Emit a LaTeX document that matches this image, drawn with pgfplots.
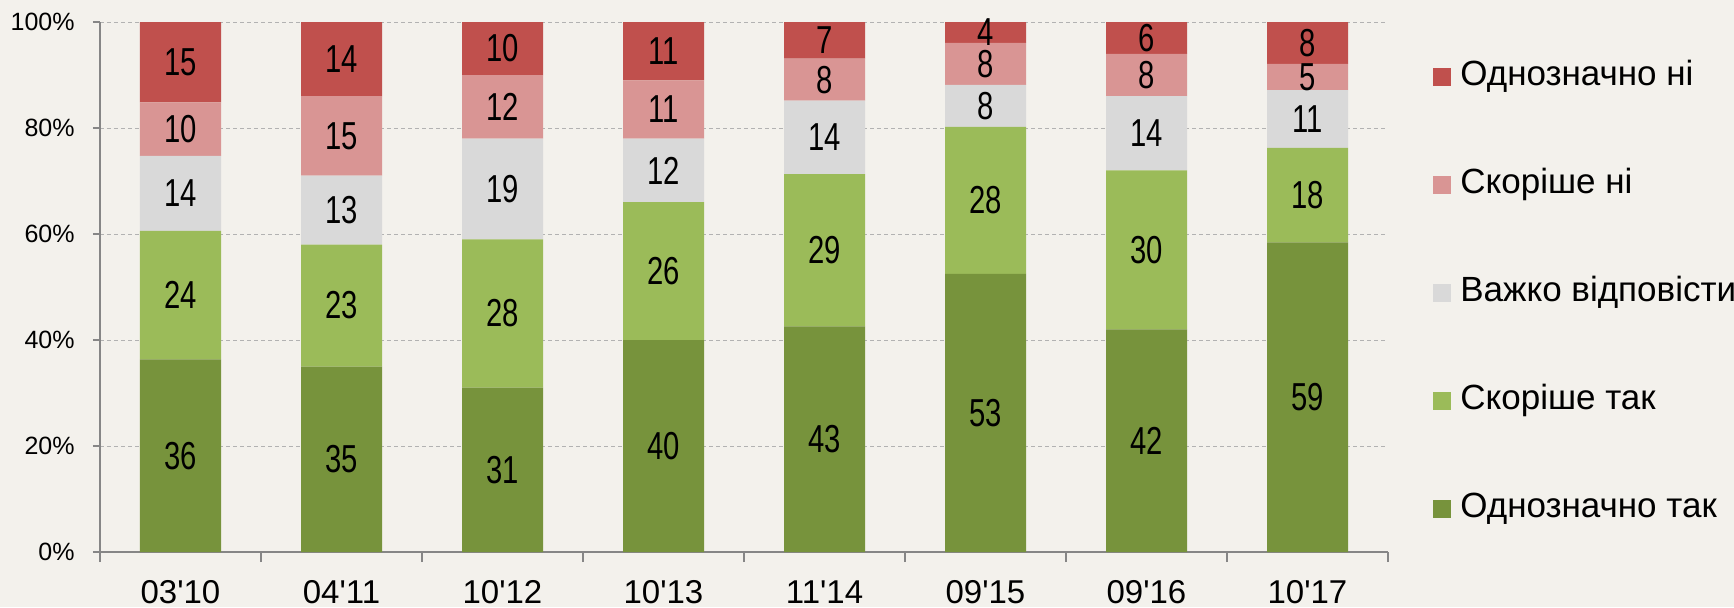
\documentclass[border=0pt]{standalone}
\usepackage{pgfplots}
\pgfplotsset{compat=1.18}
\usepackage{pgfplotstable}
\usepackage{fontspec}
\setmainfont{Liberation Sans}
\newfontfamily\narrowfont[FakeStretch=0.75]{Liberation Sans}
\definecolor{bg}{HTML}{F3F1EC}
\definecolor{c1}{HTML}{77933C}
\definecolor{c2}{HTML}{9BBB59}
\definecolor{c3}{HTML}{D9D9D9}
\definecolor{c4}{HTML}{D99594}
\definecolor{c5}{HTML}{C0504D}
\definecolor{axgray}{HTML}{868686}
\definecolor{gridgray}{HTML}{B2B2B2}

\pgfplotstableread{
i a b c d e
0 36 24 14 10 15
1 35 23 13 15 14
2 31 28 19 12 10
3 40 26 12 11 11
4 43 29 14 8 7
5 53 28 8 8 4
6 42 30 14 8 6
7 59 18 11 5 8
}\data

\newcommand{\tot}{(\thisrow{a}+\thisrow{b}+\thisrow{c}+\thisrow{d}+\thisrow{e})}

\pgfplotsset{
  myleg/.style={legend image code/.code={\fill[##1] (0pt,-4.5pt) rectangle (9pt,4.5pt);}},
  base/.style={at={(0,0)}, anchor=south west, scale only axis, width=644pt, height=265pt,
    xmin=-0.5, xmax=7.5, ymin=0, ymax=100},
}

\begin{document}
\begin{tikzpicture}
\fill[bg] (-50pt,-27.5pt) rectangle (817pt,276pt);
\useasboundingbox (-50pt,-27.5pt) rectangle (817pt,276pt);
\begin{axis}[base,
  ybar stacked, bar width=40.5pt,
  axis x line*=bottom, axis y line*=left,
  axis line style={axgray, line width=0.75pt},
  tick style={axgray, line width=0.75pt},
  tick align=outside,
  major tick length=3.5pt, minor tick length=5pt,
  ytick={0,20,...,100},
  yticklabels={0\%,20\%,40\%,60\%,80\%,100\%},
  xtick={0,...,7},
  xticklabels={03\textquotesingle10,04\textquotesingle11,10\textquotesingle12,10\textquotesingle13,11\textquotesingle14,09\textquotesingle15,09\textquotesingle16,10\textquotesingle17},
  minor xtick={-0.5,0.5,...,7.5},
  major x tick style={draw=none},
  ymajorgrids,
  major grid style={gridgray, dash pattern=on 2pt off 1.5pt, line width=0.5pt},
  yticklabel style={font=\fontsize{12.5}{14}\selectfont, inner sep=0pt, xshift=-9pt},
  xticklabel style={font=\fontsize{16.5}{18}\selectfont, inner sep=0pt, yshift=-10.5pt},
  reverse legend,
  legend style={draw=none, fill=none, inner sep=0pt, at={(rel axis cs:1.0349,0.930)}, anchor=north west,
    font=\fontsize{17.5}{21}\selectfont, cells={anchor=west},
    nodes={inner sep=0pt, text height=13pt, text depth=4pt},
    row sep=37pt, column sep=4.5pt},
]
\addplot[fill=c1, draw=none, myleg] table[x=i, y expr=100*\thisrow{a}/\tot] {\data};
\addlegendentry{Однозначно так}
\addplot[fill=c2, draw=none, myleg] table[x=i, y expr=100*\thisrow{b}/\tot] {\data};
\addlegendentry{Скоріше так}
\addplot[fill=c3, draw=none, myleg] table[x=i, y expr=100*\thisrow{c}/\tot] {\data};
\addlegendentry{Важко відповісти}
\addplot[fill=c4, draw=none, myleg] table[x=i, y expr=100*\thisrow{d}/\tot] {\data};
\addlegendentry{Скоріше ні}
\addplot[fill=c5, draw=none, myleg] table[x=i, y expr=100*\thisrow{e}/\tot] {\data};
\addlegendentry{Однозначно ні}
\end{axis}
\begin{axis}[base, hide axis, clip=false,
  every node near coord/.style={anchor=center, inner sep=0pt, black, font=\narrowfont\fontsize{19.5}{20}\selectfont},
]
\addplot[only marks, mark=*, mark size=0pt, mark options={draw=none, fill=none}, nodes near coords, point meta=explicit symbolic]
  table[x=i, y expr=100*(0.5*\thisrow{a})/\tot, meta=a] {\data};
\addplot[only marks, mark=*, mark size=0pt, mark options={draw=none, fill=none}, nodes near coords, point meta=explicit symbolic]
  table[x=i, y expr=100*(\thisrow{a}+0.5*\thisrow{b})/\tot, meta=b] {\data};
\addplot[only marks, mark=*, mark size=0pt, mark options={draw=none, fill=none}, nodes near coords, point meta=explicit symbolic]
  table[x=i, y expr=100*(\thisrow{a}+\thisrow{b}+0.5*\thisrow{c})/\tot, meta=c] {\data};
\addplot[only marks, mark=*, mark size=0pt, mark options={draw=none, fill=none}, nodes near coords, point meta=explicit symbolic]
  table[x=i, y expr=100*(\thisrow{a}+\thisrow{b}+\thisrow{c}+0.5*\thisrow{d})/\tot, meta=d] {\data};
\addplot[only marks, mark=*, mark size=0pt, mark options={draw=none, fill=none}, nodes near coords, point meta=explicit symbolic]
  table[x=i, y expr=100*(\thisrow{a}+\thisrow{b}+\thisrow{c}+\thisrow{d}+0.5*\thisrow{e})/\tot, meta=e] {\data};
\end{axis}
\end{tikzpicture}
\end{document}
